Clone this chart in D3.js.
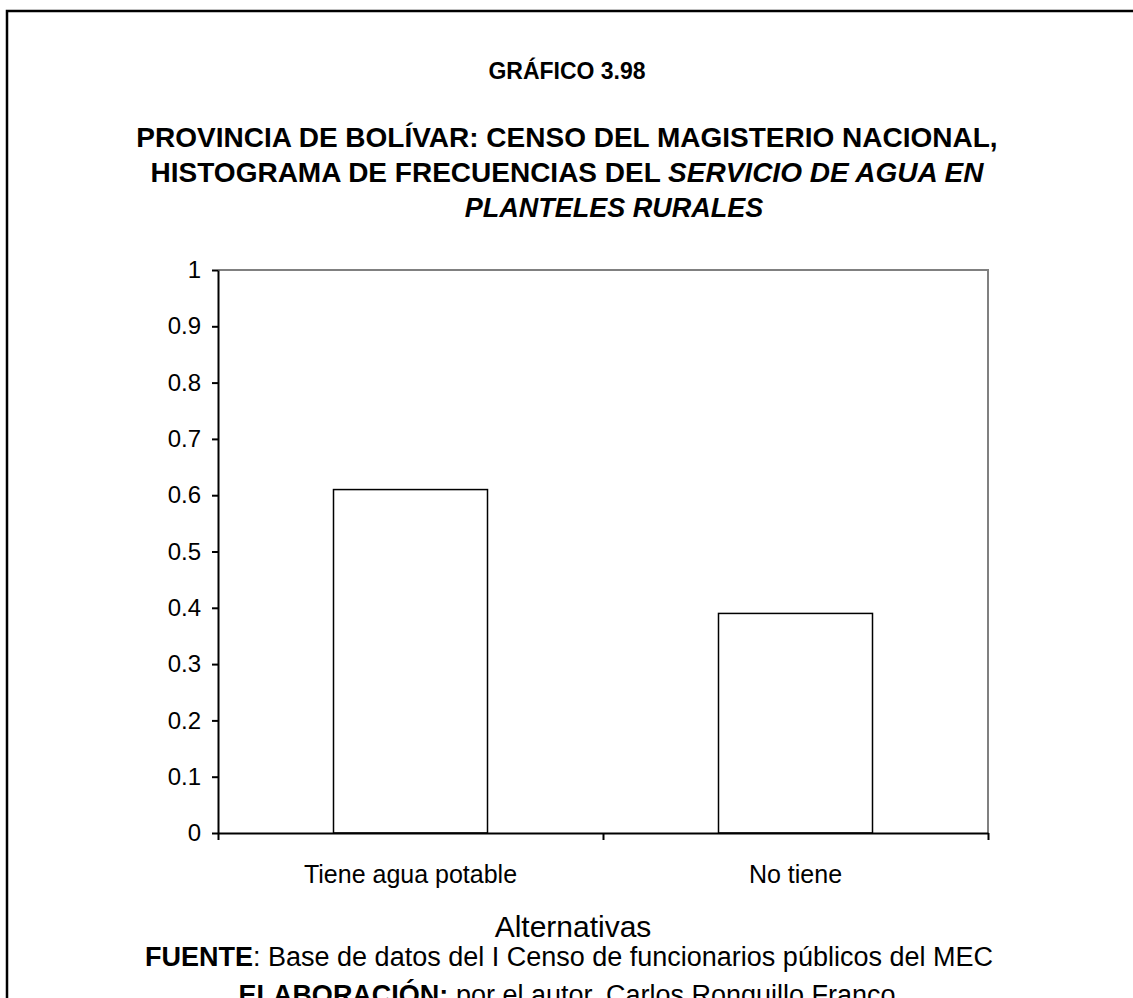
<!DOCTYPE html>
<html>
<head>
<meta charset="utf-8">
<script src="https://cdn.jsdelivr.net/npm/d3@7"></script>
<style>
  body { margin: 0; background: #fff; }
  svg text { font-family: Arial, "Liberation Sans", sans-serif; fill: #000; }
</style>
</head>
<body>
<svg id="chart" width="1133" height="998"></svg>
<script>
// Data
const categories = ['Tiene agua potable', 'No tiene'];
const frequencies = [0.61, 0.39];
const yTicks = [0, 0.1, 0.2, 0.3, 0.4, 0.5, 0.6, 0.7, 0.8, 0.9, 1];
const yTickLabels = ['0', '0.1', '0.2', '0.3', '0.4', '0.5', '0.6', '0.7', '0.8', '0.9', '1'];

const svg = d3.select('#chart');

// page frame (runs off the right and bottom edge)
svg.append('rect')
    .attr('x', 7).attr('y', 11)
    .attr('width', 1140).attr('height', 1000)
    .attr('fill', 'none')
    .attr('stroke', '#000')
    .attr('stroke-width', 2.5);

// Titles
const cx = 567;
svg.append('text')
    .attr('x', cx).attr('y', 79)
    .attr('text-anchor', 'middle')
    .attr('font-size', 23).attr('font-weight', 'bold')
    .text('GRÁFICO 3.98');

svg.append('text')
    .attr('x', cx).attr('y', 147)
    .attr('text-anchor', 'middle')
    .attr('font-size', 28).attr('font-weight', 'bold')
    .text('PROVINCIA DE BOLÍVAR: CENSO DEL MAGISTERIO NACIONAL,');

const line2 = svg.append('text')
    .attr('x', cx).attr('y', 182)
    .attr('text-anchor', 'middle')
    .attr('font-size', 28).attr('font-weight', 'bold');
line2.append('tspan').text('HISTOGRAMA DE FRECUENCIAS DEL ');
line2.append('tspan').attr('font-style', 'italic').text('SERVICIO DE AGUA EN');

svg.append('text')
    .attr('x', 614).attr('y', 217)
    .attr('text-anchor', 'middle')
    .attr('font-size', 27).attr('font-weight', 'bold').attr('font-style', 'italic')
    .text('PLANTELES RURALES');

// Plot area
const plot = { left: 218, right: 988, top: 270, bottom: 833 };

const y = d3.scaleLinear().domain([0, 1]).range([plot.bottom, plot.top]);
const x = d3.scaleBand()
    .domain(categories)
    .range([plot.left, plot.right])
    .paddingInner(0.6)
    .paddingOuter(0.3);
const xEdge = d3.scaleLinear().domain([0, categories.length]).range([plot.left, plot.right]);

// grey top / right border of plot
svg.append('path')
    .attr('d', `M${plot.left},${plot.top}H${plot.right}V${plot.bottom}`)
    .attr('fill', 'none')
    .attr('stroke', '#808080')
    .attr('stroke-width', 2);

// bars
svg.selectAll('.bar')
    .data(frequencies)
    .enter().append('rect')
    .attr('class', 'bar')
    .attr('x', (d, i) => x(categories[i]))
    .attr('y', d => y(d))
    .attr('width', x.bandwidth())
    .attr('height', d => y(0) - y(d))
    .attr('fill', '#fff')
    .attr('stroke', '#000')
    .attr('stroke-width', 1.5);

// y axis
const yAxis = svg.append('g')
    .attr('transform', `translate(${plot.left},0)`)
    .call(d3.axisLeft(y)
        .tickValues(yTicks)
        .tickFormat((d, i) => yTickLabels[i])
        .tickSize(6)
        .tickSizeOuter(0)
        .tickPadding(11));
yAxis.select('.domain').attr('stroke-width', 2);
yAxis.selectAll('.tick line').attr('stroke-width', 2);
yAxis.selectAll('.tick text')
    .attr('font-size', 24)
    .attr('font-family', 'Arial, "Liberation Sans", sans-serif');

// x axis: ticks at category boundaries
const xAxis = svg.append('g')
    .attr('transform', `translate(0,${plot.bottom})`)
    .call(d3.axisBottom(xEdge)
        .tickValues(d3.range(categories.length + 1))
        .tickFormat('')
        .tickSize(7)
        .tickSizeOuter(0));
xAxis.select('.domain').attr('stroke-width', 2);
xAxis.selectAll('.tick line').attr('stroke-width', 2);

// category labels
svg.selectAll('.cat')
    .data(categories)
    .enter().append('text')
    .attr('class', 'cat')
    .attr('x', d => x(d) + x.bandwidth() / 2)
    .attr('y', 883)
    .attr('text-anchor', 'middle')
    .attr('font-size', 25)
    .text(d => d);

svg.append('text')
    .attr('x', 573).attr('y', 937)
    .attr('text-anchor', 'middle')
    .attr('font-size', 30)
    .text('Alternativas');

// source notes
const src = svg.append('text')
    .attr('x', 569).attr('y', 966)
    .attr('text-anchor', 'middle')
    .attr('font-size', 27);
src.append('tspan').attr('font-weight', 'bold').text('FUENTE');
src.append('tspan').text(': Base de datos del I Censo de funcionarios públicos del MEC');

const elab = svg.append('text')
    .attr('x', 567).attr('y', 1004)
    .attr('text-anchor', 'middle')
    .attr('font-size', 27);
elab.append('tspan').attr('font-weight', 'bold').text('ELABORACIÓN:');
elab.append('tspan').text(' por el autor, Carlos Ronquillo Franco');
</script>
</body>
</html>
